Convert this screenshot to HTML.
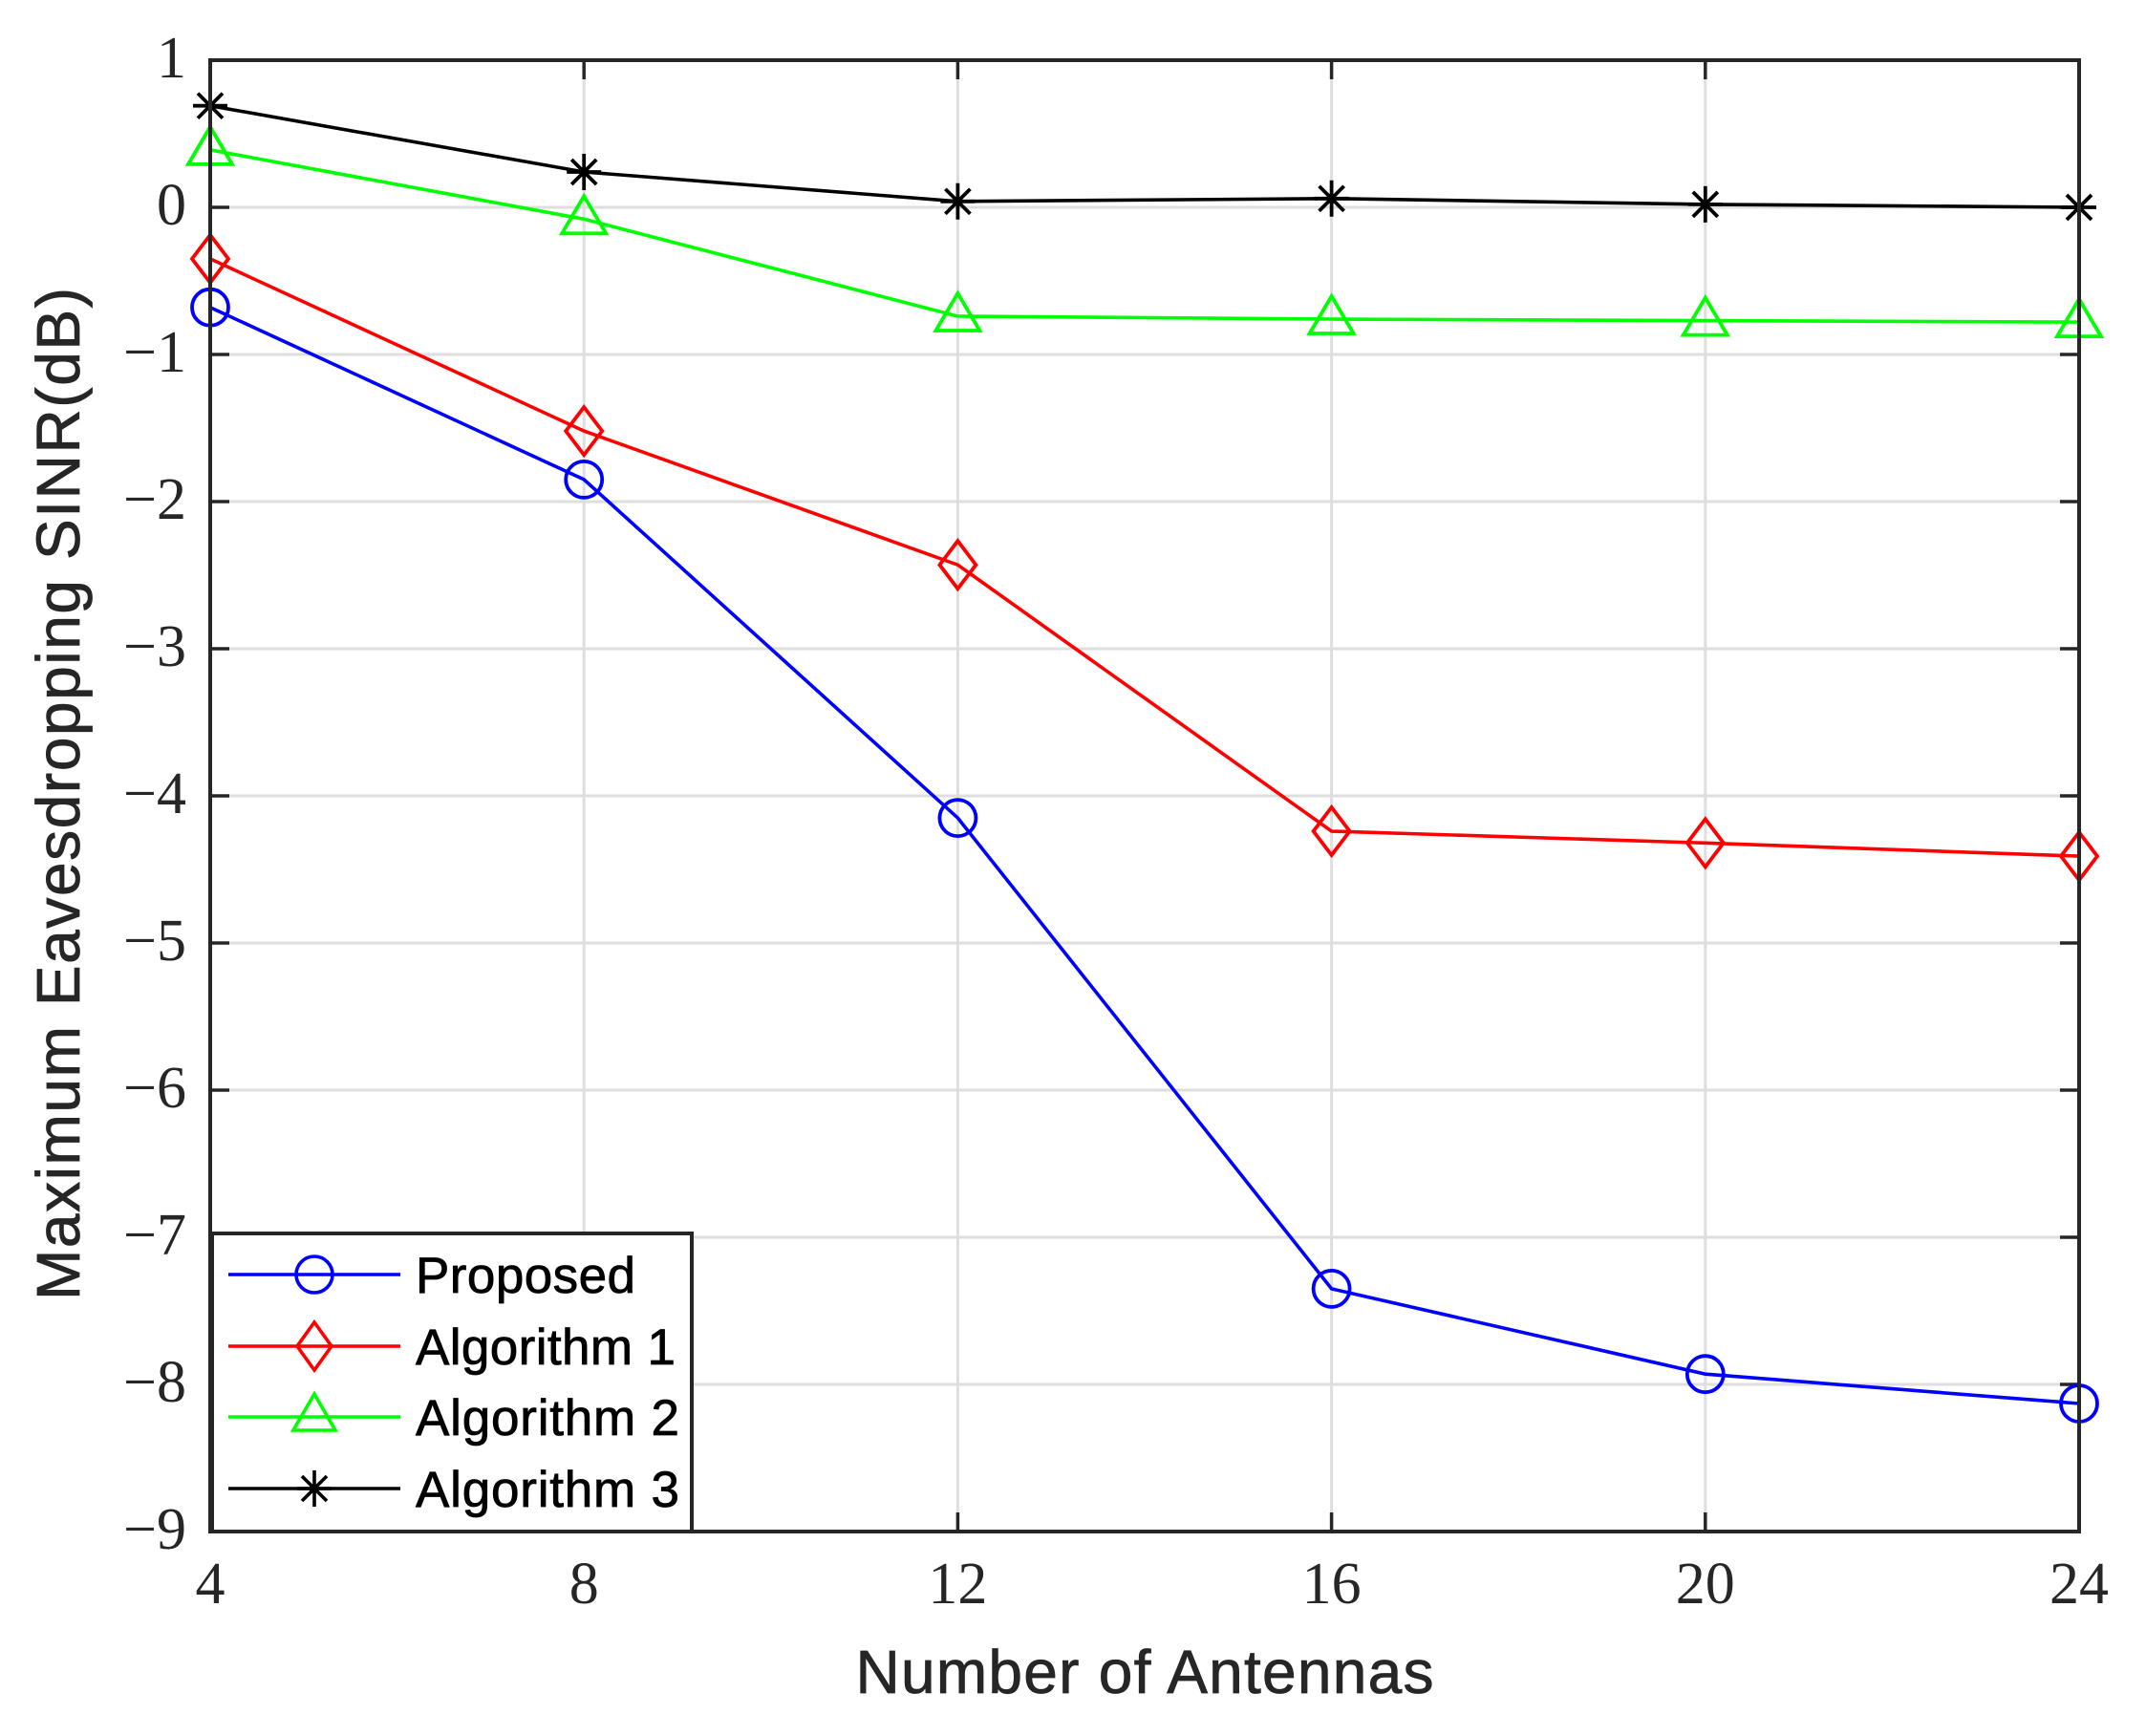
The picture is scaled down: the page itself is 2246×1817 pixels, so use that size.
<!DOCTYPE html>
<html><head><meta charset="utf-8"><style>html,body{margin:0;padding:0;background:#fff}svg{display:block}</style></head>
<body>
<svg width="2246" height="1817" viewBox="0 0 2246 1817" xmlns="http://www.w3.org/2000/svg">
<rect width="2246" height="1817" fill="#fff"/>
<g stroke="#dedede" stroke-width="3">
<line x1="611.2" y1="63" x2="611.2" y2="1603"/><line x1="1002.4" y1="63" x2="1002.4" y2="1603"/><line x1="1393.6" y1="63" x2="1393.6" y2="1603"/><line x1="1784.8" y1="63" x2="1784.8" y2="1603"/>
<line x1="220" y1="217" x2="2176" y2="217"/><line x1="220" y1="371" x2="2176" y2="371"/><line x1="220" y1="525" x2="2176" y2="525"/><line x1="220" y1="679" x2="2176" y2="679"/><line x1="220" y1="833" x2="2176" y2="833"/><line x1="220" y1="987" x2="2176" y2="987"/><line x1="220" y1="1141" x2="2176" y2="1141"/><line x1="220" y1="1295" x2="2176" y2="1295"/><line x1="220" y1="1449" x2="2176" y2="1449"/>
</g>
<g stroke="#262626" stroke-width="3.5">
<path d="M611.2 1603v-20M1002.4 1603v-20M1393.6 1603v-20M1784.8 1603v-20M611.2 63v20M1002.4 63v20M1393.6 63v20M1784.8 63v20"/>
<path d="M220 217h20M220 371h20M220 525h20M220 679h20M220 833h20M220 987h20M220 1141h20M220 1295h20M220 1449h20M2176 217h-20M2176 371h-20M2176 525h-20M2176 679h-20M2176 833h-20M2176 987h-20M2176 1141h-20M2176 1295h-20M2176 1449h-20"/>
</g>
<g fill="none" stroke-width="3.6">
<polyline stroke="#0000ff" points="220,321.7 611.2,501.9 1002.4,856.1 1393.6,1348.9 1784.8,1438.2 2176,1469"/>
<polyline stroke="#ff0000" points="220,270.9 611.2,451.1 1002.4,591.2 1393.6,870 1784.8,882.3 2176,896.1"/>
<polyline stroke="#00ff00" points="220,156.9 611.2,229.3 1002.4,331 1393.6,334 1784.8,335.6 2176,337.1"/>
<polyline stroke="#000" points="220,110.7 611.2,180 1002.4,210.8 1393.6,207.8 1784.8,213.9 2176,217"/>
</g>
<g fill="none" stroke="#0000ff" stroke-width="3.8">
<circle cx="220" cy="321.7" r="19"/><circle cx="611.2" cy="501.9" r="19"/><circle cx="1002.4" cy="856.1" r="19"/><circle cx="1393.6" cy="1348.9" r="19"/><circle cx="1784.8" cy="1438.2" r="19"/><circle cx="2176" cy="1469" r="19"/>
</g>
<g fill="none" stroke="#ff0000" stroke-width="3.8">
<path d="M220 245.9l19 25-19 25-19-25z"/><path d="M611.2 426.1l19 25-19 25-19-25z"/><path d="M1002.4 566.2l19 25-19 25-19-25z"/><path d="M1393.6 845l19 25-19 25-19-25z"/><path d="M1784.8 857.3l19 25-19 25-19-25z"/><path d="M2176 871.1l19 25-19 25-19-25z"/>
</g>
<g fill="none" stroke="#00ff00" stroke-width="3.8">
<path d="M220 132.9l23 39h-46z"/><path d="M611.2 205.3l23 39h-46z"/><path d="M1002.4 307l23 39h-46z"/><path d="M1393.6 310l23 39h-46z"/><path d="M1784.8 311.6l23 39h-46z"/><path d="M2176 313.1l23 39h-46z"/>
</g>
<g fill="none" stroke="#000" stroke-width="3.8">
<path d="M0-19v38M-18 0h36M-13-13l26 26M-13 13l26-26" transform="translate(220 110.7)"/>
<path d="M0-19v38M-18 0h36M-13-13l26 26M-13 13l26-26" transform="translate(611.2 180)"/>
<path d="M0-19v38M-18 0h36M-13-13l26 26M-13 13l26-26" transform="translate(1002.4 210.8)"/>
<path d="M0-19v38M-18 0h36M-13-13l26 26M-13 13l26-26" transform="translate(1393.6 207.8)"/>
<path d="M0-19v38M-18 0h36M-13-13l26 26M-13 13l26-26" transform="translate(1784.8 213.9)"/>
<path d="M0-19v38M-18 0h36M-13-13l26 26M-13 13l26-26" transform="translate(2176 217)"/>
</g>
<rect x="220" y="63" width="1956" height="1540" fill="none" stroke="#262626" stroke-width="4"/>
<rect x="222" y="1291" width="502" height="312" fill="#fff" stroke="#262626" stroke-width="4"/>
<g stroke-width="3.6" fill="none">
<line x1="239" y1="1334" x2="419" y2="1334" stroke="#0000ff"/><circle cx="329" cy="1334" r="19" stroke="#0000ff"/>
<line x1="239" y1="1409" x2="419" y2="1409" stroke="#ff0000"/><path d="M329 1384l18 25-18 25-18-25z" stroke="#ff0000"/>
<line x1="239" y1="1483" x2="419" y2="1483" stroke="#00ff00"/><path d="M329 1459l22 38h-44z" stroke="#00ff00"/>
<line x1="239" y1="1558" x2="419" y2="1558" stroke="#000"/><path d="M0-19v38M-18 0h36M-13-13l26 26M-13 13l26-26" transform="translate(329 1558)" stroke="#000"/>
</g>
<g font-family="Liberation Sans, sans-serif" font-size="53" fill="#000" stroke="#000" stroke-width="0.8">
<text x="435" y="1353" textLength="230">Proposed</text><text x="435" y="1428" textLength="272">Algorithm 1</text><text x="435" y="1502" textLength="276">Algorithm 2</text><text x="435" y="1577" textLength="276">Algorithm 3</text>
</g>
<g font-family="Liberation Serif, serif" font-size="62" fill="#262626" text-anchor="end">
<text x="195" y="81">1</text><text x="195" y="235">0</text><text x="195" y="389">−1</text><text x="195" y="543">−2</text><text x="195" y="697">−3</text><text x="195" y="851">−4</text><text x="195" y="1005">−5</text><text x="195" y="1159">−6</text><text x="195" y="1313">−7</text><text x="195" y="1467">−8</text><text x="195" y="1621">−9</text>
</g>
<g font-family="Liberation Serif, serif" font-size="62" fill="#262626" text-anchor="middle">
<text x="220" y="1678">4</text><text x="611.2" y="1678">8</text><text x="1002.4" y="1678">12</text><text x="1393.6" y="1678">16</text><text x="1784.8" y="1678">20</text><text x="2176" y="1678">24</text>
</g>
<text x="1198" y="1772" font-family="Liberation Sans, sans-serif" font-size="64" fill="#262626" stroke="#262626" stroke-width="0.8" text-anchor="middle" textLength="605">Number of Antennas</text>
<text transform="translate(83 831) rotate(-90)" font-family="Liberation Sans, sans-serif" font-size="64" fill="#262626" stroke="#262626" stroke-width="0.8" text-anchor="middle" textLength="1060">Maximum Eavesdropping SINR(dB)</text>
</svg>
</body></html>
